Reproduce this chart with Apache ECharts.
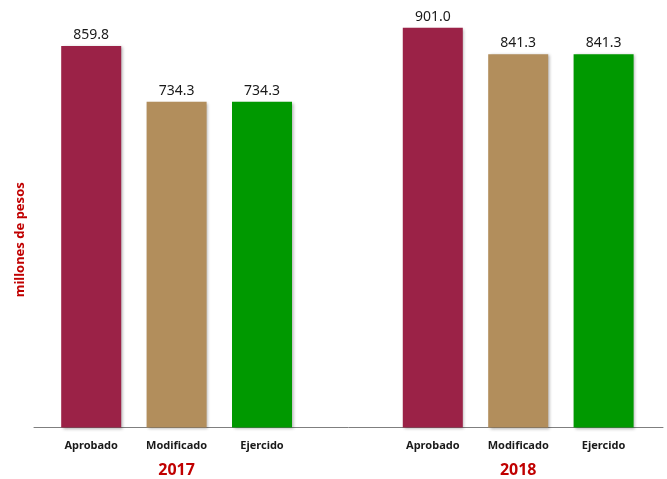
<!DOCTYPE html>
<html>
<head>
<meta charset="utf-8">
<script src="https://cdn.jsdelivr.net/npm/echarts@6/dist/echarts.min.js"></script>
<style>html,body{margin:0;padding:0;background:#fff}#c{width:667px;height:479px}</style>
</head>
<body>
<div id="c"></div>
<script>
var categories = ['Aprobado', 'Modificado', 'Ejercido', '', 'Aprobado', 'Modificado', 'Ejercido'];
var values = [859.8, 734.3, 734.3, null, 901.0, 841.3, 841.3];
var yearLabels = ['', '2017', '', '', '', '2018', ''];
var yAxisTitle = 'millones de pesos';

var barColors = ['#9B2247', '#B28E5C', '#009900', '#ffffff', '#9B2247', '#B28E5C', '#009900'];
var FONT = '"Noto Sans", sans-serif';

var chart = echarts.init(document.getElementById('c'), null, {renderer: 'canvas'});
chart.setOption({
  animation: false,
  backgroundColor: '#ffffff',
  grid: [
    {left: 48.5, right: 20.7, top: 6, bottom: 51.5},
    {left: 34, right: 4, top: 52, bottom: 51.5}
  ],
  xAxis: [
    {
      type: 'category', gridIndex: 0, data: categories,
      axisLine: {show: false}, axisTick: {show: false},
      axisLabel: {margin: 12.5, fontFamily: FONT, fontSize: 11, fontWeight: 'bold', color: '#1a1a1a', interval: 0}
    },
    {
      type: 'category', gridIndex: 0, data: yearLabels, position: 'bottom', offset: 35,
      axisLine: {show: false}, axisTick: {show: false},
      axisLabel: {margin: 0, fontFamily: FONT, fontSize: 16, fontWeight: 'bold', color: '#C00000', interval: 0}
    },
    {
      type: 'value', gridIndex: 1, min: 0, max: 1,
      axisLine: {show: true, onZero: false, lineStyle: {color: '#7f7f7f', width: 1}},
      axisTick: {show: false}, axisLabel: {show: false}, splitLine: {show: false}
    }
  ],
  yAxis: [
    {
      type: 'value', gridIndex: 0, min: 0, max: 950,
      show: false
    },
    {
      type: 'value', gridIndex: 1, min: 0, max: 1,
      axisLine: {show: false}, axisTick: {show: false}, axisLabel: {show: false}, splitLine: {show: false},
      name: yAxisTitle, nameLocation: 'middle', nameGap: 7,
      nameTextStyle: {fontFamily: FONT, fontSize: 13, fontWeight: 'bold', color: '#C00000'}
    }
  ],
  series: [{
    type: 'bar',
    xAxisIndex: 0, yAxisIndex: 0,
    data: values.map(function (v, i) { return {value: v, itemStyle: {color: barColors[i]}}; }),
    barWidth: 60,
    itemStyle: {shadowColor: 'rgba(0,0,0,0.3)', shadowBlur: 3, shadowOffsetX: 1.5, shadowOffsetY: 1},
    label: {
      show: true, position: 'top', distance: 4,
      fontFamily: FONT, fontSize: 14, color: '#1a1a1a',
      formatter: function (p) { return p.value == null ? '' : p.value.toFixed(1); }
    }
  }]
});
</script>
</body>
</html>
